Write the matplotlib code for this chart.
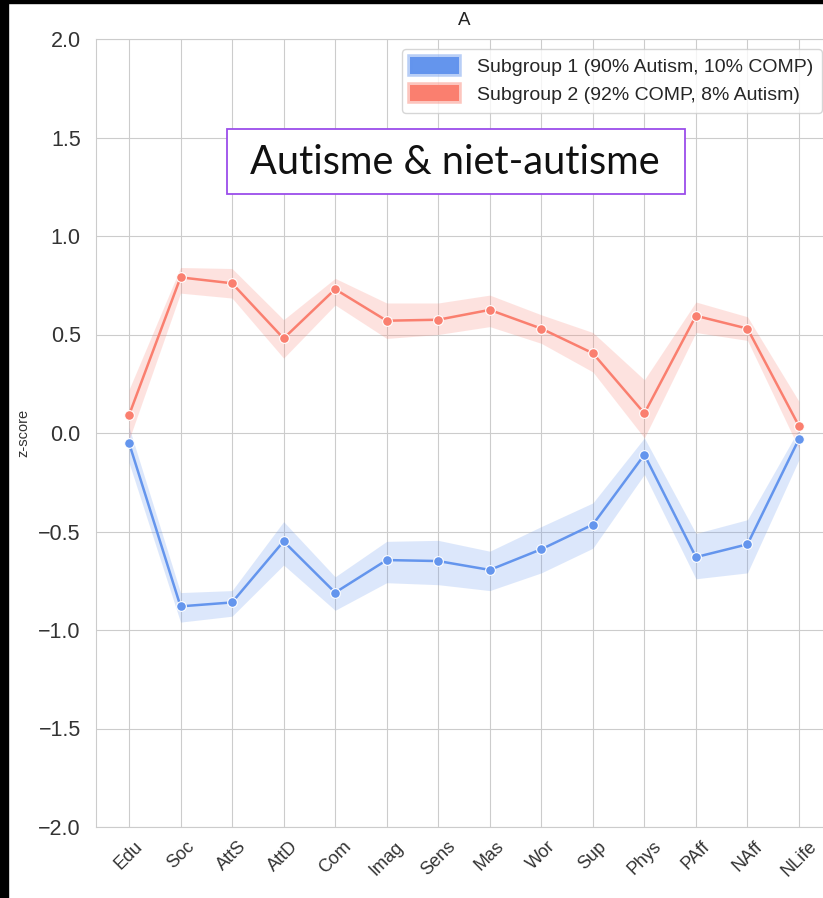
import numpy as np
import matplotlib
matplotlib.use("Agg")
import matplotlib.pyplot as plt
import seaborn as sns
from matplotlib.patches import Patch, Rectangle

# Domains on the x axis
domains = ['Edu', 'Soc', 'AttS', 'AttD', 'Com', 'Imag', 'Sens', 'Mas', 'Wor',
           'Sup', 'Phys', 'PAff', 'NAff', 'NLife']

# Subgroup 2 (mostly COMP): mean z-score and CI band
sg2_mean = [0.09, 0.79, 0.76, 0.48, 0.73, 0.57, 0.575, 0.625, 0.53, 0.405, 0.10, 0.595, 0.53, 0.035]
sg2_low = [-0.035, 0.71, 0.685, 0.38, 0.65, 0.48, 0.50, 0.54, 0.455, 0.31, -0.025, 0.51, 0.47, -0.08]
sg2_high = [0.22, 0.84, 0.835, 0.575, 0.785, 0.66, 0.66, 0.70, 0.60, 0.51, 0.27, 0.665, 0.59, 0.16]

# Subgroup 1 (mostly autism)
sg1_mean = [-0.05, -0.88, -0.86, -0.55, -0.81, -0.645, -0.65, -0.695, -0.59, -0.465, -0.11, -0.63, -0.565, -0.03]
sg1_low = [-0.15, -0.96, -0.93, -0.67, -0.90, -0.76, -0.77, -0.80, -0.71, -0.585, -0.21, -0.74, -0.71, -0.135]
sg1_high = [0.03, -0.81, -0.80, -0.45, -0.73, -0.55, -0.545, -0.60, -0.475, -0.355, -0.025, -0.51, -0.44, 0.02]

labels = ['Subgroup 1 (90% Autism, 10% COMP)', 'Subgroup 2 (92% COMP, 8% Autism)']
blue = '#6495ED'
red = '#FA7F6F'

sns.set_style('whitegrid')
plt.rcParams['font.family'] = ['Liberation Sans', 'DejaVu Sans']

fig = plt.figure(figsize=(8.23, 8.98), dpi=100)
ax = fig.add_axes([96 / 823, 1 - 827 / 898, (832 - 96) / 823, (827 - 39) / 898])

x = np.arange(len(domains))
for mean, low, high, col in [(sg1_mean, sg1_low, sg1_high, blue),
                             (sg2_mean, sg2_low, sg2_high, red)]:
    ax.fill_between(x, low, high, color=col, alpha=0.22, linewidth=0)
    ax.plot(x, mean, color=col, lw=1.8, marker='o', markersize=7,
            markeredgecolor='white', markeredgewidth=0.8)

ax.set_xlim(-0.64, len(domains) - 1 + 0.64)
ax.set_ylim(-2, 2)
yt = np.arange(-2, 2.01, 0.5)
ax.set_yticks(yt)
ax.set_yticklabels([f'{v:.1f}'.replace('-', '\u2212') for v in yt], fontsize=15.5, color='#333333')
ax.set_xticks(x)
ax.set_xticklabels(domains, rotation=45, fontsize=13, color='#333333')
ax.tick_params(axis='y', length=0, pad=11)
ax.tick_params(axis='x', length=0, pad=8)
ax.set_ylabel('z-score', fontsize=10.5, color='#333333')
ax.yaxis.set_label_coords((30 - 96) / 736, 0.5)
ax.set_title('A', fontsize=13.5, color='#222222', pad=10)

handles = [Patch(facecolor=blue, edgecolor=(0.39, 0.58, 0.93, 0.45), linewidth=4),
           Patch(facecolor=red, edgecolor=(0.98, 0.50, 0.44, 0.45), linewidth=4)]
ax.legend(handles, labels, loc='upper right', bbox_to_anchor=(0.999, 1.0),
          fontsize=14, frameon=True, handlelength=2.5, handleheight=0.9,
          borderpad=0.45, labelspacing=0.45, handletextpad=0.9)

# Annotation box
ax.add_patch(Rectangle(((227 - 96) / 736, (827 - 194) / 788), (685 - 227) / 736, 65 / 788,
                       transform=ax.transAxes, facecolor='white', edgecolor='#9B4DEA',
                       linewidth=1.3, zorder=5))
ax.text((455 - 96) / 736, (827 - 163) / 788, 'Autisme & niet-autisme', transform=ax.transAxes,
        ha='center', va='center', fontsize=28.5, family=['Lato', 'DejaVu Sans'],
        color='#111111', zorder=6)

# Black border strips from the original screenshot
fig.patches.append(Rectangle((0, 0), 8 / 823, 1, transform=fig.transFigure, color='black', zorder=10))
fig.patches.append(Rectangle((0, 1 - 3 / 898), 1, 3 / 898, transform=fig.transFigure, color='black', zorder=10))

fig.savefig('out.png', dpi=100)
